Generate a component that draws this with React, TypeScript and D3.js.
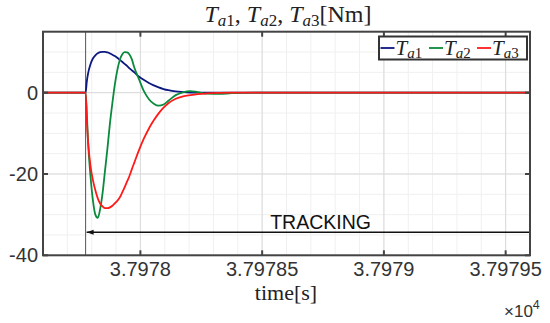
import { useRef, useEffect } from 'react';
import * as d3 from 'd3';

// time [s] (absolute) shared by all three torques
const timeS = [
  37977.6, 37977.775, 37977.78, 37977.785, 37977.795, 37977.805, 37977.815, 37977.825,
  37977.835, 37977.845, 37977.855, 37977.865, 37977.875, 37977.885, 37977.895, 37977.905,
  37977.915, 37977.925, 37977.935, 37977.945, 37977.955, 37977.965, 37977.975, 37977.995,
  37978.015, 37978.035, 37978.055, 37978.075, 37978.095, 37978.115, 37978.145, 37978.175,
  37978.205, 37978.235, 37978.275, 37978.325, 37978.375, 37978.475, 37979.6,
];
const ta1 = [
  0, 0, 2.8, 4.7, 7.0, 8.4, 9.2, 9.7,
  9.95, 10.05, 10.05, 9.9, 9.65, 9.35, 9.0, 8.6,
  8.1, 7.6, 7.1, 6.6, 6.0, 5.5, 5.0, 3.9,
  3.1, 2.4, 1.8, 1.3, 0.9, 0.6, 0.3, 0.15,
  0.05, 0, 0, 0, 0, 0, 0,
];
const ta2 = [
  0, 0, -5, -12, -20.5, -26.5, -30, -30.8,
  -28.5, -24.5, -19, -13.5, -7.5, -2.5, 2, 5.5,
  8, 9.4, 10.0, 9.9, 9.4, 8.2, 6.2, 3.2,
  0.3, -1.6, -2.7, -3.2, -2.9, -2.0, -0.6, 0.1,
  0.4, 0.15, -0.25, -0.3, -0.1, 0, 0,
];
const ta3 = [
  0, 0, -7, -12, -18, -21.5, -24, -26,
  -27.3, -28, -28.4, -28.4, -28.2, -27.8, -27.2, -26.6,
  -25.8, -24.6, -23.3, -21.9, -20.5, -18.8, -17.2, -14.0,
  -11.2, -8.8, -6.8, -5.1, -3.7, -2.6, -1.5, -0.9,
  -0.6, -0.35, -0.15, -0.05, 0, 0, 0,
];
const seriesNames = ['a1', 'a2', 'a3'];
const seriesColors = ['#0c1780', '#0a8a3c', '#ff1a1a'];
const xTicks = [37978, 37978.5, 37979, 37979.5];
const yTicks = [-40, -20, 0];
const eventTime = 37977.775;
const arrowLabel = 'TRACKING';

const App = () => {
  const ref = useRef<SVGSVGElement>(null);

  useEffect(() => {
    const width = 550;
    const height = 323;
    const margin = { top: 31.7, right: 20, bottom: 67.7, left: 43 };

    const x = d3.scaleLinear().domain([37977.6, 37979.6]).range([margin.left, width - margin.right]);
    const y = d3.scaleLinear().domain([-40, 15]).range([height - margin.bottom, margin.top]);

    const svg = d3.select(ref.current);
    svg.selectAll('*').remove();
    svg.attr('viewBox', [0, 0, width, height]).attr('width', width).attr('height', height);

    svg.append('rect').attr('width', width).attr('height', height).attr('fill', '#fff');

    const [x0, x1] = x.range();
    const [yb, yt] = y.range();

    // minor grid
    const minorX = d3.range(37977.6, 37979.65, 0.1);
    const minorY = d3.range(-40, 15.1, 5);
    svg.append('g').selectAll('line').data(minorX).enter().append('line')
      .attr('x1', (d: number) => x(d)).attr('x2', (d: number) => x(d))
      .attr('y1', yt).attr('y2', yb)
      .attr('stroke', '#f0f0f0').attr('stroke-width', 1);
    svg.append('g').selectAll('line').data(minorY).enter().append('line')
      .attr('y1', (d: number) => y(d)).attr('y2', (d: number) => y(d))
      .attr('x1', x0).attr('x2', x1)
      .attr('stroke', '#f0f0f0').attr('stroke-width', 1);

    // major grid
    svg.append('g').selectAll('line').data(xTicks).enter().append('line')
      .attr('x1', (d: number) => x(d)).attr('x2', (d: number) => x(d))
      .attr('y1', yt).attr('y2', yb)
      .attr('stroke', '#dadada').attr('stroke-width', 1);
    svg.append('g').selectAll('line').data(yTicks).enter().append('line')
      .attr('y1', (d: number) => y(d)).attr('y2', (d: number) => y(d))
      .attr('x1', x0).attr('x2', x1)
      .attr('stroke', '#dadada').attr('stroke-width', 1);

    // event marker
    svg.append('line')
      .attr('x1', x(eventTime)).attr('x2', x(eventTime))
      .attr('y1', yt).attr('y2', yb)
      .attr('stroke', '#555').attr('stroke-width', 1);

    // curves
    const line = d3.line<number>()
      .curve(d3.curveMonotoneX)
      .x((_d, i) => x(timeS[i]))
      .y((d) => y(d));
    [ta1, ta2, ta3].forEach((vals, i) => {
      svg.append('path')
        .attr('d', line(vals))
        .attr('fill', 'none')
        .attr('stroke', seriesColors[i])
        .attr('stroke-width', 1.8)
        .attr('stroke-linejoin', 'round');
    });

    // tracking arrow
    const arrowY = y(-34.3);
    svg.append('line')
      .attr('x1', x(eventTime) + 1).attr('x2', x1)
      .attr('y1', arrowY).attr('y2', arrowY)
      .attr('stroke', '#111').attr('stroke-width', 1.5);
    const ax = x(eventTime) + 1;
    svg.append('path')
      .attr('d', `M${ax},${arrowY} L${ax + 7},${arrowY - 2.5} L${ax + 7},${arrowY + 2.5} Z`)
      .attr('fill', '#111');
    svg.append('text')
      .attr('x', x(37978.74)).attr('y', arrowY - 3.5)
      .attr('text-anchor', 'middle')
      .attr('font-family', 'Liberation Sans, Arial, sans-serif')
      .attr('font-size', 19.5)
      .attr('fill', '#111')
      .text(arrowLabel);

    // axes box + ticks
    const axisColor = '#444';
    svg.append('rect')
      .attr('x', x0).attr('y', yt).attr('width', x1 - x0).attr('height', yb - yt)
      .attr('fill', 'none').attr('stroke', axisColor).attr('stroke-width', 2);
    xTicks.forEach((t) => {
      svg.append('line').attr('x1', x(t)).attr('x2', x(t)).attr('y1', yb).attr('y2', yb - 5)
        .attr('stroke', axisColor).attr('stroke-width', 2);
      svg.append('line').attr('x1', x(t)).attr('x2', x(t)).attr('y1', yt).attr('y2', yt + 5)
        .attr('stroke', axisColor).attr('stroke-width', 2);
    });
    yTicks.forEach((t) => {
      svg.append('line').attr('x1', x0).attr('x2', x0 + 5).attr('y1', y(t)).attr('y2', y(t))
        .attr('stroke', axisColor).attr('stroke-width', 2);
      svg.append('line').attr('x1', x1).attr('x2', x1 - 5).attr('y1', y(t)).attr('y2', y(t))
        .attr('stroke', axisColor).attr('stroke-width', 2);
    });

    const tickFont = 'Liberation Sans, Arial, sans-serif';
    svg.append('g').selectAll('text').data(xTicks).enter().append('text')
      .attr('x', (d: number) => x(d)).attr('y', yb + 21)
      .attr('text-anchor', 'middle')
      .attr('font-family', tickFont).attr('font-size', 20).attr('fill', '#333')
      .text((d: number) => String(+(d / 1e4).toFixed(5)));
    svg.append('g').selectAll('text').data(yTicks).enter().append('text')
      .attr('x', x0 - 5).attr('y', (d: number) => y(d) + 7)
      .attr('text-anchor', 'end')
      .attr('font-family', tickFont).attr('font-size', 20).attr('fill', '#333')
      .text((d: number) => String(d));

    // x10^4 exponent
    const expo = svg.append('text')
      .attr('x', 504).attr('y', 317)
      .attr('font-family', tickFont).attr('font-size', 17).attr('fill', '#333');
    expo.append('tspan').text('\u00d710');
    expo.append('tspan').attr('dy', -8).attr('font-size', 12.5).text('4');

    const serif = 'Liberation Serif, Times New Roman, serif';
    // x label
    svg.append('text')
      .attr('x', 286).attr('y', 300)
      .attr('text-anchor', 'middle')
      .attr('font-family', serif).attr('font-size', 22).attr('fill', '#222')
      .text('time[s]');

    // title
    const title = svg.append('text')
      .attr('x', 288).attr('y', 22)
      .attr('text-anchor', 'middle')
      .attr('font-family', serif).attr('font-size', 24).attr('fill', '#222');
    seriesNames.forEach((n, i) => {
      title.append('tspan').attr('font-style', 'italic').text('T');
      title.append('tspan').attr('dy', 4).attr('font-size', 17).attr('font-style', 'italic').text(n[0]);
      title.append('tspan').attr('font-size', 17).text(n[1]);
      title.append('tspan').attr('dy', -4).text(i < 2 ? ', ' : '[Nm]');
    });

    // legend
    const lg = svg.append('g');
    lg.append('rect')
      .attr('x', 379).attr('y', 36.5).attr('width', 148).attr('height', 23)
      .attr('fill', '#fff').attr('stroke', '#333').attr('stroke-width', 2);
    const itemX = [380.5, 429, 477];
    seriesNames.forEach((n, i) => {
      lg.append('line')
        .attr('x1', itemX[i]).attr('x2', itemX[i] + 14)
        .attr('y1', 48).attr('y2', 48)
        .attr('stroke', seriesColors[i]).attr('stroke-width', 1.8);
      const t = lg.append('text')
        .attr('x', itemX[i] + 15).attr('y', 54.5)
        .attr('font-family', serif).attr('font-size', 21).attr('fill', '#222');
      t.append('tspan').attr('font-style', 'italic').text('T');
      t.append('tspan').attr('dy', 3).attr('font-size', 15).attr('font-style', 'italic').text(n[0]);
      t.append('tspan').attr('font-size', 15).text(n[1]);
    });
  }, []);

  return (
    <div>
      <svg ref={ref} style={{ position: 'absolute', left: 0, top: 0 }}></svg>
    </div>
  );
};

export default App;
